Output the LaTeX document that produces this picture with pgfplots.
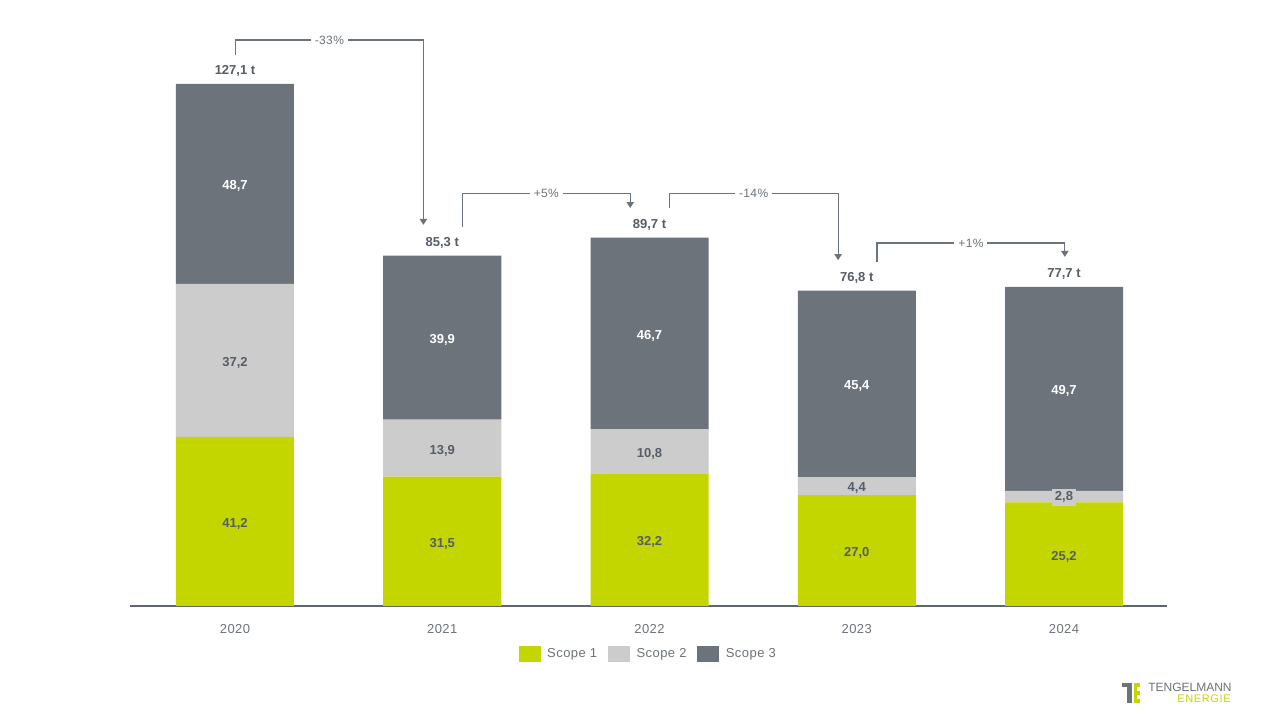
\documentclass[border=0pt]{standalone}
\usepackage{pgfplots}
\pgfplotsset{compat=1.18}
\usepackage{fontspec}
\setmainfont{Liberation Sans}
\usetikzlibrary{arrows.meta}
\definecolor{sone}{HTML}{C3D600}
\definecolor{stwo}{HTML}{CCCCCC}
\definecolor{sthree}{HTML}{6C737A}
\definecolor{axgrey}{HTML}{5F6670}
\definecolor{txtdark}{HTML}{565D66}
\definecolor{txtgrey}{HTML}{6C737A}
\newcommand\lsfont{\fontsize{9.75pt}{11pt}\selectfont\addfontfeatures{LetterSpace=3.5}}
\begin{document}
\begin{tikzpicture}[
  seglab/.style={font=\fontsize{9.75pt}{11pt}\selectfont\bfseries, text=txtdark, inner sep=2pt, yshift=-1.8pt},
  twolab/.style={seglab, fill=stwo, inner xsep=2.5pt, inner ysep=0.8pt},
  totlab/.style={font=\fontsize{9.75pt}{11pt}\selectfont\bfseries, text=txtdark, yshift=9.6pt},
  brk/.style={draw=sthree, line width=0.9pt, -{Triangle[width=5.5pt,length=4.5pt]}},
  pct/.style={font=\fontsize{9pt}{10pt}\selectfont\addfontfeatures{LetterSpace=3}, text=txtgrey, fill=white, inner xsep=3pt, inner ysep=1pt},
]
\path[use as bounding box, fill=white] (-97.5pt,-85.5pt) rectangle (862.5pt,454.5pt);
\begin{axis}[
  at={(0pt,0pt)}, anchor=south west,
  scale only axis, width=777.75pt, height=431.25pt,
  xmin=-0.5066, xmax=4.497, ymin=0, ymax=140,
  ybar stacked, bar width=88.5pt,
  clip=false,
  axis y line=none, axis x line*=bottom,
  x axis line style={draw=axgrey, line width=1pt},
  xtick={0,1,2,3,4}, xticklabels={2020,2021,2022,2023,2024},
  major tick length=0pt,
  /pgf/number format/assume math mode=true,
  xticklabel style={anchor=center, yshift=-17.25pt, font=\lsfont, text=txtgrey},
  legend style={at={(0.5,-0.084)}, anchor=center, draw=none, fill=none,
    font=\lsfont, text=txtgrey,
    /tikz/every even column/.append style={column sep=6pt}},
  legend columns=3,
  legend image code/.code={\fill[#1,draw=none] (0pt,-6pt) rectangle (16.5pt,6pt); \path (19.5pt,0pt);},
]
\addplot[fill=sone, draw=none] coordinates {(0,41.2) (1,31.5) (2,32.2) (3,27.0) (4,25.2)};
\addplot[fill=stwo, draw=none] coordinates {(0,37.2) (1,13.9) (2,10.8) (3,4.4) (4,2.8)};
\addplot[fill=sthree, draw=none] coordinates {(0,48.7) (1,39.9) (2,46.7) (3,45.4) (4,49.7)};
\legend{Scope 1, Scope 2, Scope 3}
% anchor points for labels
\coordinate (a0) at (axis cs:0,20.6);
\coordinate (a1) at (axis cs:1,15.75);
\coordinate (a2) at (axis cs:2,16.1);
\coordinate (a3) at (axis cs:3,13.5);
\coordinate (a4) at (axis cs:4,12.6);
\coordinate (b0) at (axis cs:0,59.8);
\coordinate (b1) at (axis cs:1,38.45);
\coordinate (b2) at (axis cs:2,37.6);
\coordinate (b3) at (axis cs:3,29.2);
\coordinate (b4) at (axis cs:4,26.6);
\coordinate (c0) at (axis cs:0,102.75);
\coordinate (c1) at (axis cs:1,65.35);
\coordinate (c2) at (axis cs:2,66.35);
\coordinate (c3) at (axis cs:3,54.1);
\coordinate (c4) at (axis cs:4,52.85);
\coordinate (t0) at (axis cs:0,127.1);
\coordinate (t1) at (axis cs:1,85.3);
\coordinate (t2) at (axis cs:2,89.7);
\coordinate (t3) at (axis cs:3,76.8);
\coordinate (t4) at (axis cs:4,77.7);
\coordinate (p1a) at (axis cs:0.002,134.2);
\coordinate (p1b) at (axis cs:0.909,137.8);
\coordinate (p1c) at (axis cs:0.909,92.8);
\coordinate (p1l) at (axis cs:0.4555,137.8);
\coordinate (p2a) at (axis cs:1.097,92.3);
\coordinate (p2b) at (axis cs:1.907,100.4);
\coordinate (p2c) at (axis cs:1.907,96.9);
\coordinate (p2l) at (axis cs:1.502,100.4);
\coordinate (p3a) at (axis cs:2.095,96.9);
\coordinate (p3b) at (axis cs:2.910,100.4);
\coordinate (p3c) at (axis cs:2.910,84.2);
\coordinate (p3l) at (axis cs:2.5025,100.4);
\coordinate (p4a) at (axis cs:3.098,83.8);
\coordinate (p4b) at (axis cs:4.004,88.4);
\coordinate (p4c) at (axis cs:4.004,85.0);
\coordinate (p4l) at (axis cs:3.551,88.4);
\end{axis}
% segment labels
\node[seglab] at (a0) {41,2};
\node[seglab] at (a1) {31,5};
\node[seglab] at (a2) {32,2};
\node[seglab] at (a3) {27,0};
\node[seglab] at (a4) {25,2};
\node[twolab] at (b0) {37,2};
\node[twolab] at (b1) {13,9};
\node[twolab] at (b2) {10,8};
\node[twolab] at (b3) {4,4};
\node[twolab, inner ysep=2.2pt, yshift=1.3pt] at (b4) {2,8};
\node[seglab, text=white] at (c0) {48,7};
\node[seglab, text=white] at (c1) {39,9};
\node[seglab, text=white] at (c2) {46,7};
\node[seglab, text=white] at (c3) {45,4};
\node[seglab, text=white] at (c4) {49,7};
% totals
\node[totlab] at (t0) {127,1 t};
\node[totlab] at (t1) {85,3 t};
\node[totlab] at (t2) {89,7 t};
\node[totlab] at (t3) {76,8 t};
\node[totlab] at (t4) {77,7 t};
% brackets
\draw[brk] (p1a) |- (p1b) -- (p1c);
\draw[brk] (p2a) |- (p2b) -- (p2c);
\draw[brk] (p3a) |- (p3b) -- (p3c);
\draw[brk] (p4a) |- (p4b) -- (p4c);
\node[pct] at (p1l) {-33\%};
\node[pct] at (p2l) {+5\%};
\node[pct] at (p3l) {-14\%};
\node[pct] at (p4l) {+1\%};
% logo
\begin{scope}[shift={(-97.5pt,454.5pt)}, x=0.75pt, y=-0.75pt]
\fill[sthree] (1122,683) rectangle (1132,687);
\fill[sthree] (1127,683) rectangle (1132,703);
\fill[sone] (1134,683) rectangle (1137,703);
\fill[sone] (1137,683) rectangle (1140,687);
\fill[sone] (1137,691) rectangle (1140,695);
\fill[sone] (1137,699) rectangle (1140,703);
\node[anchor=base west, inner sep=0, text=sthree, font=\fontsize{9pt}{10pt}\selectfont] at (1148,691.5) {TENGELMANN};
\node[anchor=base east, inner sep=0, text=sone, font=\fontsize{8.25pt}{9pt}\selectfont\addfontfeatures{LetterSpace=6}] at (1231,703) {ENERGIE};
\end{scope}
\end{tikzpicture}
\end{document}
